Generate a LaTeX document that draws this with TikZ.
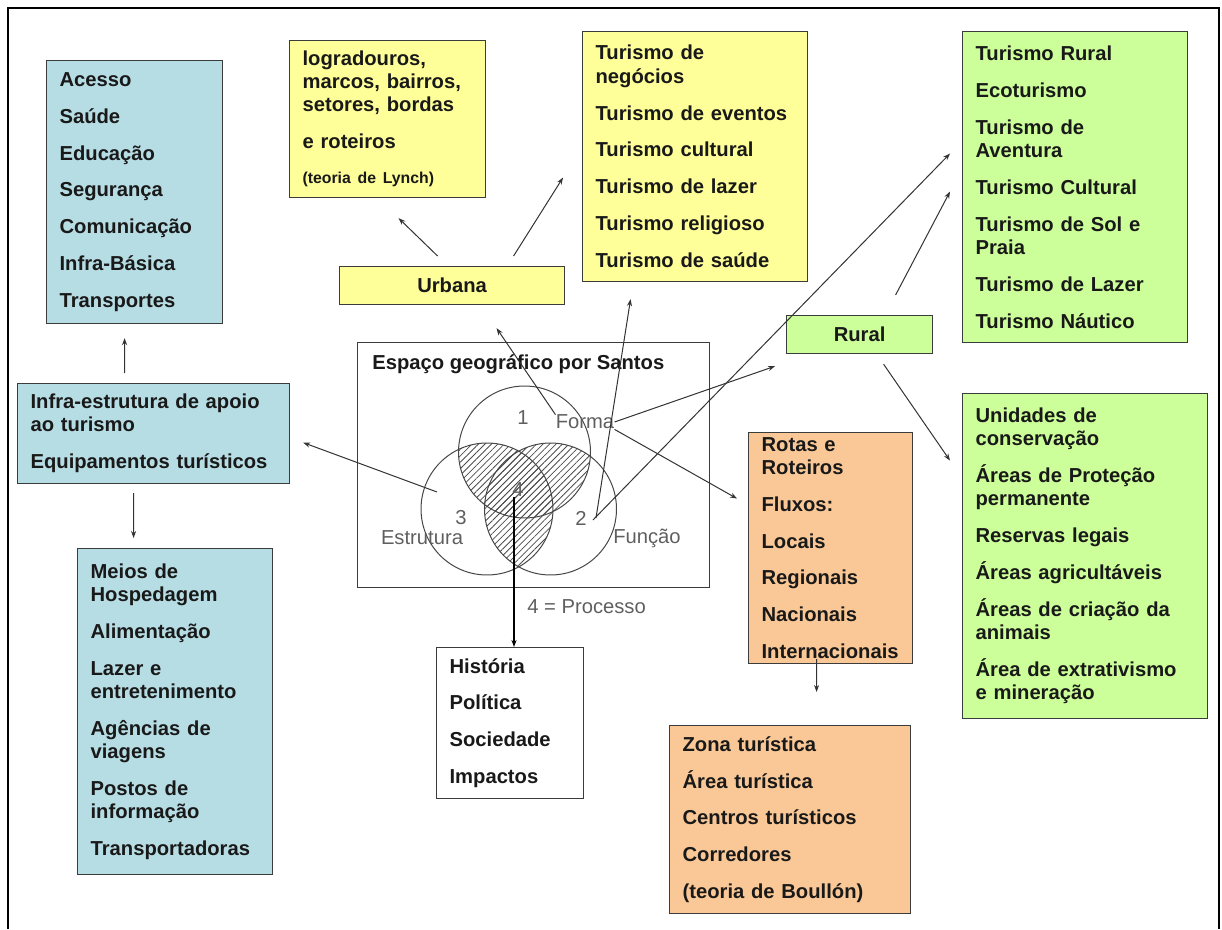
\documentclass[tikz,border=0pt]{standalone}
\usepackage{fontspec}
\setmainfont{Liberation Sans}
\usetikzlibrary{arrows.meta,patterns.meta}
\newlength{\unitpx}\setlength{\unitpx}{0.2mm}
\def\gap{\\[7.8pt]}
\definecolor{boxblue}{RGB}{183,221,228}
\definecolor{boxyellow}{RGB}{255,255,153}
\definecolor{boxgreen}{RGB}{204,255,153}
\definecolor{boxorange}{RGB}{250,200,150}
\definecolor{boxline}{RGB}{60,60,60}
\definecolor{vennline}{RGB}{70,70,70}
\definecolor{venntext}{RGB}{95,95,95}

\begin{document}
\begin{tikzpicture}[x=0.02cm, y=-0.02cm,
  card/.style 2 args={draw=boxline, line width=1.2\unitpx, anchor=north west, align=left,
    inner xsep=13\unitpx, inner ysep=0pt, text width=#1\unitpx, minimum height=#2\unitpx,
    font=\fontsize{11.5}{13.2}\selectfont\bfseries, text=black!90},
  tabbox/.style 2 args={draw=boxline, line width=1.2\unitpx, anchor=north west, inner sep=0pt,
    minimum width=#1\unitpx, minimum height=#2\unitpx,
    font=\fontsize{11.5}{13.2}\selectfont\bfseries, text=black!90},
  venn/.style={font=\fontsize{11.5}{13.2}\selectfont, text=venntext, inner sep=0pt},
  arr/.style={draw=black!80, line width=1\unitpx, -{Stealth[length=4pt,width=2.9pt]}},
  hatch/.style={pattern={Lines[angle=45,distance=2.6pt,line width=0.45pt]}, pattern color=black!70}]

	\useasboundingbox (0,0) rectangle (1222,929);
	\draw[line width=2.6\unitpx] (8,929) -- (8,8) -- (1219,8) -- (1219,929);

	\node[card={150}{263}, fill=boxblue] (acc) at (46,60)
		{Acesso\gap Saúde\gap Educação\gap Segurança\gap Comunicação\gap Infra-Básica\gap Transportes};
	\node[card={170}{157}, fill=boxyellow] (lograd) at (289,40)
		{logradouros,\\ marcos, bairros,\\ setores, bordas\gap e roteiros\\[6.8pt] {\fontsize{9}{11}\selectfont (teoria de Lynch)}};
	\node[tabbox={225}{38}, fill=boxyellow] (urbana) at (339,266) {Urbana};
	\node[card={199}{250}, fill=boxyellow] (negocios) at (582,31)
		{Turismo de\\ negócios\gap Turismo de eventos\gap Turismo cultural\gap Turismo de lazer\gap Turismo religioso\gap Turismo de saúde};
	\node[card={199}{311}, fill=boxgreen] (trural) at (962,31)
		{Turismo Rural\gap Ecoturismo\gap Turismo de\\ Aventura\gap Turismo Cultural\gap Turismo de Sol e\\ Praia\gap Turismo de Lazer\gap Turismo Náutico};
	\node[tabbox={146}{38}, fill=boxgreen] (rural) at (786,315) {Rural};
	\node[card={246}{100}, fill=boxblue] (infra) at (17,383)
		{Infra-estrutura de apoio\\ ao turismo\gap Equipamentos turísticos};
	\node[card={169}{326}, fill=boxblue] (meios) at (77,548)
		{Meios de\\ Hospedagem\gap Alimentação\gap Lazer e\\ entretenimento\gap Agências de\\ viagens\gap Postos de\\ informação\gap Transportadoras};
	\node[card={121}{151}, fill=white] (historia) at (436,647)
		{História\gap Política\gap Sociedade\gap Impactos};
	\node[card={138}{231}, fill=boxorange] (rotas) at (748,432)
		{Rotas e\\ Roteiros\gap Fluxos:\gap Locais\gap Regionais\gap Nacionais\gap Internacionais};
	\node[card={215}{188}, fill=boxorange] (zona) at (669,725)
		{Zona turística\gap Área turística\gap Centros turísticos\gap Corredores\gap (teoria de Boullón)};
	\node[card={219}{325}, fill=boxgreen] (unid) at (962,393)
		{Unidades de\\ conservação\gap Áreas de Proteção\\ permanente\gap Reservas legais\gap Áreas agricultáveis\gap Áreas de criação da\\ animais\gap Área de extrativismo\\ e mineração};

	\node[draw=boxline, line width=1\unitpx, anchor=north west, inner sep=0pt,
		minimum width=352\unitpx, minimum height=245\unitpx] (espaco) at (357,342) {};
	\node[anchor=west, inner sep=0pt, font=\fontsize{11.5}{13.2}\selectfont\bfseries, text=black!90]
		(titulo) at ([shift={(15,22)}]espaco.north west) {Espaço geográfico por Santos};

	\coordinate (c1) at (524.5,452);
	\coordinate (c2) at (550.5,509);
	\coordinate (c3) at (487,509);
	\begin{scope}
		\clip (c1) circle[radius=66\unitpx];
		\fill[hatch] (c2) circle[radius=66\unitpx] (c3) circle[radius=66\unitpx];
	\end{scope}
	\begin{scope}
		\clip (c2) circle[radius=66\unitpx];
		\fill[hatch] (c3) circle[radius=66\unitpx];
	\end{scope}
	\draw[vennline, line width=1\unitpx] (c1) circle[radius=66\unitpx] (c2) circle[radius=66\unitpx] (c3) circle[radius=66\unitpx];

	\node[venn] (lbl1) at (523,418) {1};
	\node[venn] (forma) at (585,422) {Forma};
	\node[venn] (lbl2) at (581,518) {2};
	\node[venn] (funcao) at (647,538) {Função};
	\node[venn] (lbl3) at (461,518) {3};
	\node[venn] (estrut) at (422,538) {Estrutura};
	\node[venn] (lbl4) at (518,490) {4};
	\node[venn, anchor=west] (processo) at (527,607) {4 = Processo};

	\draw[arr] ([shift={(-29,-10)}]infra.north) -- ([shift={(-10,14)}]acc.south);
	\draw[arr] ([shift={(-20,9)}]infra.south) -- ([shift={(-41.5,-10)}]meios.north);
	\draw[arr] ([shift={(-24,-26)}]lbl3.center) -- ([shift={(13,9)}]infra.east);
	\draw[arr] ([shift={(-14.5,-10)}]urbana.north) -- ([shift={(11,20)}]lograd.south);
	\draw[arr] ([shift={(61.5,-10)}]urbana.north) -- ([shift={(-19,21)}]negocios.west);
	\draw[arr] (forma.north west) -- ([shift={(44.5,23)}]urbana.south);
	\draw[arr] ([shift={(9,0)}]lbl2.east) -- ([shift={(-64.5,17)}]negocios.south);
	\draw[arr] ([shift={(6,2)}]lbl2.east) -- ([shift={(-12,-33.5)}]trural.west);
	\draw[arr] (forma.east) -- ([shift={(-11,12)}]rural.south west);
	\draw[arr] (forma.south east) -- ([shift={(-11,-49.5)}]rotas.west);
	\draw[arr] ([shift={(36,-20)}]rural.north) -- ([shift={(-12,4.5)}]trural.west);
	\draw[arr] ([shift={(24,10)}]rural.south) -- ([shift={(-12,-95.5)}]unid.west);
	\draw[arr] ([shift={(-14,-5)}]rotas.south) -- ([shift={(26.5,-33)}]zona.north);
	\draw[arr, draw=black, line width=2\unitpx] ([xshift=-4\unitpx]lbl4.south) -- ([xshift=-4\unitpx]lbl4.south |- historia.north);
\end{tikzpicture}
\end{document}
